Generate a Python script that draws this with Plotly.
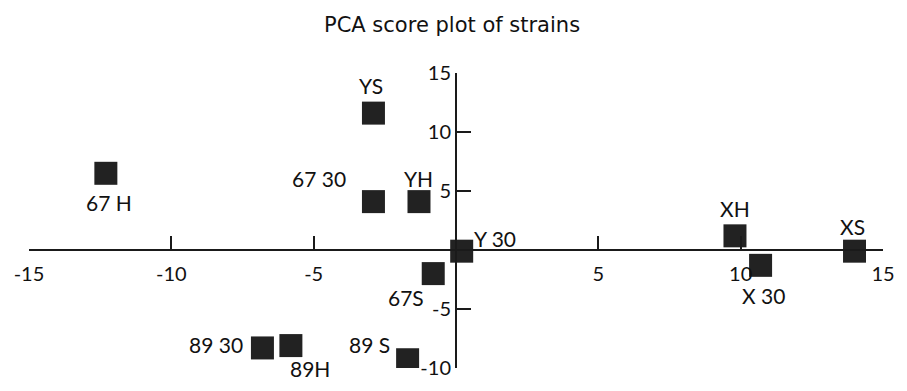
import plotly.graph_objects as go

# ---- data ----
strains = ["YS", "67 30", "YH", "67 H", "Y 30", "XH", "XS", "X 30", "67S", "89 S", "89 30", "89H"]
pc1 = [-2.9, -2.9, -1.3, -12.3, 0.2, 9.8, 14.0, 10.7, -0.8, -1.7, -6.8, -5.8]
pc2 = [11.6, 4.1, 4.1, 6.5, -0.1, 1.2, -0.1, -1.3, -2.0, -9.3, -8.3, -8.1]
x_ticks = [-15, -10, -5, 5, 10, 15]
y_ticks = [-10, -5, 5, 10, 15]
title_text = "PCA score plot of strains"

# ---- label offsets (pixels) ----
label_shift = {
    "YS": (-2, 28), "67 30": (-54, 23), "YH": (0, 23), "67 H": (3, -29),
    "Y 30": (33, 13), "XH": (0, 27), "XS": (-2, 25), "X 30": (3, -30),
    "67S": (-27, -24), "89 S": (-38, 15), "89 30": (-46, 3), "89H": (19, -23),
}

FONT = "Lato"
W, H = 907, 391
L, R, T, B = 29, 14, 73, 12

fig = go.Figure()
fig.add_trace(go.Scatter(
    x=pc1, y=pc2, mode="markers",
    marker=dict(symbol="square", size=23, color="#222222",
                line=dict(width=0)),
    hoverinfo="text", text=strains, showlegend=False,
))

for name, xv, yv in zip(strains, pc1, pc2):
    dx, dy = label_shift[name]
    fig.add_annotation(x=xv, y=yv, text=name, showarrow=False,
                       xshift=dx, yshift=dy,
                       font=dict(family=FONT, size=21, color="#111111"))

xr = [-15, 15]
yr = [-10, 15]
fig.update_layout(
    width=W, height=H,
    margin=dict(l=L, r=R, t=T, b=B, pad=0),
    paper_bgcolor="white", plot_bgcolor="white",
    title=dict(text=title_text, x=(457 - L) / (W - L - R), xref="paper",
               xanchor="center", y=1 - 25 / H, yref="container", yanchor="middle",
               font=dict(family="DejaVu Sans", size=21, color="#111111")),
    xaxis=dict(range=xr, anchor="free", position=(0 - yr[0]) / (yr[1] - yr[0]),
               showgrid=False, zeroline=False, showline=True,
               linecolor="#1a1a1a", linewidth=2,
               ticks="inside", ticklen=13, tickwidth=1.5, tickcolor="#1a1a1a",
               ticklabelstandoff=6,
               tickvals=x_ticks, ticktext=[str(v) for v in x_ticks],
               tickfont=dict(family=FONT, size=20, color="#111111")),
    yaxis=dict(range=yr, anchor="free", position=(0 - xr[0]) / (xr[1] - xr[0]),
               showgrid=False, zeroline=False, showline=True,
               linecolor="#1a1a1a", linewidth=2,
               ticks="inside", ticklen=14, tickwidth=1.5, tickcolor="#1a1a1a",
               tickvals=y_ticks, ticktext=[str(v) for v in y_ticks],
               tickfont=dict(family=FONT, size=20, color="#111111")),
)

fig.write_html("out.html")
